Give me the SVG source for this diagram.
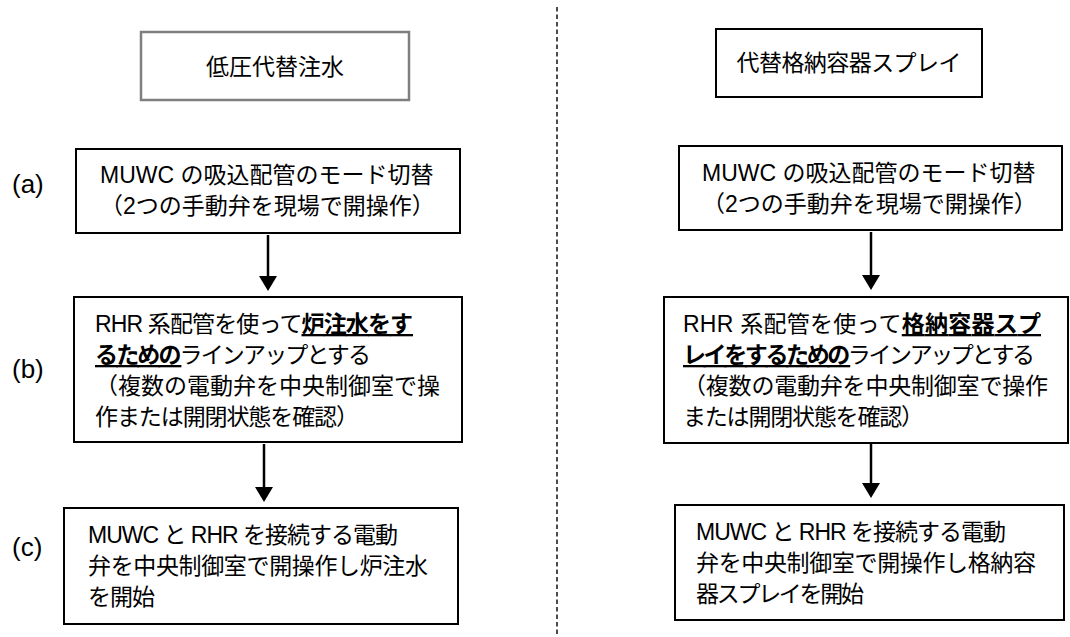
<svg xmlns="http://www.w3.org/2000/svg" width="1070" height="637" viewBox="0 0 1070 637">
<defs>
<style>
text{font-family:"Liberation Sans","Noto Sans CJK JP",sans-serif;fill:#000}
.t{font-size:23px}
.lbl{font-size:26px}
.box{fill:#fff;stroke:#000;stroke-width:2}
.gbox{fill:#fff;stroke:#7f7f7f;stroke-width:2.5}
.b{font-weight:bold;text-decoration:underline}
.arr{stroke:#000;stroke-width:2.5;fill:none}
.head{fill:#000}
</style>
</defs>
<g id="connectors">
<line x1="557" y1="7" x2="557" y2="637" stroke="#000" stroke-width="1.4" stroke-dasharray="4.5,3"/>
<line class="arr" x1="268" y1="235" x2="268" y2="278"/>
<polygon class="head" points="259,276 277,276 268,291"/>
<line class="arr" x1="871" y1="232" x2="871" y2="277"/>
<polygon class="head" points="862,275 880,275 871,290"/>
<line class="arr" x1="264" y1="444" x2="264" y2="489"/>
<polygon class="head" points="255,487 273,487 264,502"/>
<line class="arr" x1="871" y1="444" x2="871" y2="485"/>
<polygon class="head" points="862,483 880,483 871,498"/>
</g>
<g id="title-left">
<rect class="gbox" x="141" y="32" width="268" height="68"/>
<text class="t" x="275" y="75" text-anchor="middle">低圧代替注水</text>
</g>
<g id="title-right">
<rect class="box" x="716" y="29" width="266" height="68"/>
<text class="t" x="849" y="71" text-anchor="middle" textLength="225" lengthAdjust="spacing">代替格納容器スプレイ</text>
</g>
<g id="label-a"><text class="lbl" x="12" y="193">(a)</text></g>
<g id="label-b"><text class="lbl" x="12" y="378">(b)</text></g>
<g id="label-c"><text class="lbl" x="12" y="556">(c)</text></g>
<g id="left-a">
<rect class="box" x="76" y="149" width="384" height="84"/>
<text class="t" x="100" y="183">MUWC の吸込配管のモード切替</text>
<text class="t" x="100" y="214">（2つの手動弁を現場で開操作）</text>
</g>
<g id="left-b">
<rect class="box" x="74" y="297" width="388" height="145"/>
<text class="t" x="95" y="332" textLength="318" lengthAdjust="spacing">RHR 系配管を使って<tspan class="b">炉注水をす</tspan></text>
<text class="t" x="95" y="363" textLength="276" lengthAdjust="spacing"><tspan class="b">るための</tspan>ラインアップとする</text>
<text class="t" x="95" y="394">（複数の電動弁を中央制御室で操</text>
<text class="t" x="95" y="425" textLength="264" lengthAdjust="spacing">作または開閉状態を確認）</text>
</g>
<g id="left-c">
<rect class="box" x="64" y="508" width="394" height="116"/>
<text class="t" x="88" y="543" textLength="310" lengthAdjust="spacing">MUWC と RHR を接続する電動</text>
<text class="t" x="88" y="574" textLength="340" lengthAdjust="spacing">弁を中央制御室で開操作し炉注水</text>
<text class="t" x="88" y="605" textLength="67" lengthAdjust="spacing">を開始</text>
</g>
<g id="right-a">
<rect class="box" x="679" y="146" width="383" height="84"/>
<text class="t" x="702" y="181">MUWC の吸込配管のモード切替</text>
<text class="t" x="702" y="212">（2つの手動弁を現場で開操作）</text>
</g>
<g id="right-b">
<rect class="box" x="664" y="297" width="404" height="146"/>
<text class="t" x="683" y="332" textLength="358" lengthAdjust="spacing">RHR 系配管を使って<tspan class="b">格納容器スプ</tspan></text>
<text class="t" x="683" y="363" textLength="352" lengthAdjust="spacing"><tspan class="b">レイをするための</tspan>ラインアップとする</text>
<text class="t" x="683" y="394" textLength="365" lengthAdjust="spacing">（複数の電動弁を中央制御室で操作</text>
<text class="t" x="683" y="425" textLength="241" lengthAdjust="spacing">または開閉状態を確認）</text>
</g>
<g id="right-c">
<rect class="box" x="675" y="505" width="389" height="115"/>
<text class="t" x="696" y="540" textLength="310" lengthAdjust="spacing">MUWC と RHR を接続する電動</text>
<text class="t" x="696" y="571" textLength="340" lengthAdjust="spacing">弁を中央制御室で開操作し格納容</text>
<text class="t" x="696" y="602" textLength="168" lengthAdjust="spacing">器スプレイを開始</text>
</g>
</svg>
